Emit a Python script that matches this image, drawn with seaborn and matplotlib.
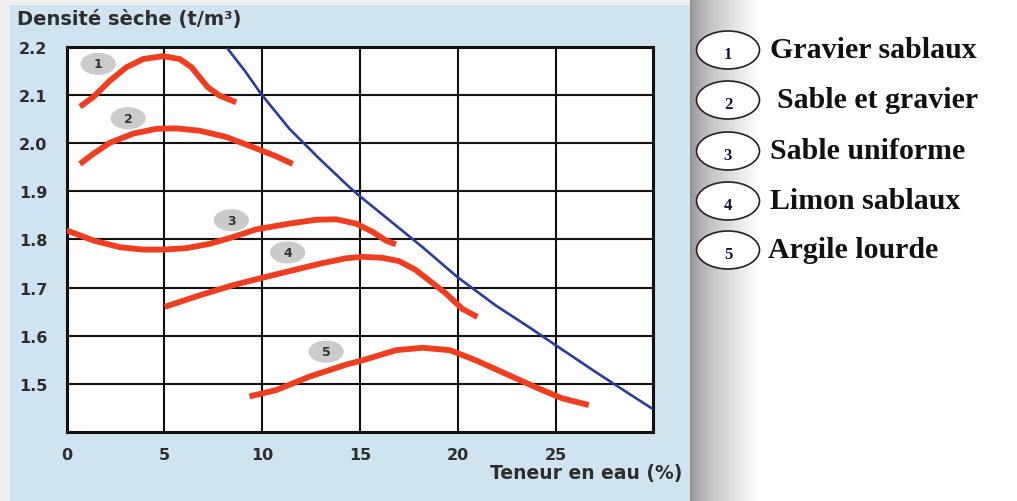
import numpy as np
import pandas as pd
import seaborn as sns
import matplotlib.pyplot as plt
from matplotlib.patches import Rectangle, Ellipse

# courbes Proctor (teneur en eau %, densité sèche t/m3)
c1_x = [0.68, 1.36, 2.21, 3.06, 3.91, 4.93, 5.78, 6.38, 6.8, 7.23, 7.82, 8.67]
c1_y = [2.076, 2.096, 2.13, 2.158, 2.175, 2.181, 2.175, 2.158, 2.137, 2.116, 2.099, 2.085]
c2_x = [0.68, 1.36, 2.21, 3.4, 4.59, 5.61, 6.8, 8.16, 9.52, 10.71, 11.56]
c2_y = [1.957, 1.978, 2.001, 2.02, 2.03, 2.031, 2.026, 2.013, 1.992, 1.973, 1.957]
c3_x = [0.0, 1.36, 2.72, 3.9, 4.93, 6.12, 7.31, 8.5, 9.69, 11.39, 12.75, 13.78, 14.8, 15.64, 16.32, 16.84]
c3_y = [1.819, 1.798, 1.784, 1.779, 1.779, 1.782, 1.791, 1.805, 1.821, 1.833, 1.841, 1.842, 1.833, 1.816, 1.798, 1.79]
c4_x = [5.01, 6.8, 8.5, 9.95, 11.56, 13.09, 14.29, 15.13, 16.15, 17.0, 17.8, 18.54, 19.39, 20.23, 21.0]
c4_y = [1.66, 1.684, 1.705, 1.72, 1.736, 1.751, 1.761, 1.764, 1.762, 1.755, 1.738, 1.715, 1.688, 1.656, 1.639]
c5_x = [9.35, 10.71, 12.41, 14.29, 15.13, 16.84, 18.2, 19.6, 20.92, 22.62, 24.15, 25.34, 26.7]
c5_y = [1.474, 1.487, 1.515, 1.54, 1.549, 1.57, 1.575, 1.57, 1.549, 1.518, 1.49, 1.47, 1.456]

# courbe de saturation
sat_x = [8.24, 9.1, 9.95, 11.39, 12.92, 14.45, 14.96, 16.84, 18.2, 19.98, 21.94, 23.64, 25.13, 27.04, 28.74, 29.93]
sat_y = [2.196, 2.151, 2.102, 2.03, 1.968, 1.909, 1.891, 1.829, 1.784, 1.722, 1.663, 1.618, 1.577, 1.525, 1.48, 1.449]

curve_ids = ["1", "2", "3", "4", "5"]
curve_names = ["Gravier sablaux", "Sable et gravier", "Sable uniforme", "Limon sablaux", "Argile lourde"]
badge_x = [1.61, 3.14, 8.42, 11.3, 13.27]
badge_y = [2.165, 2.052, 1.84, 1.773, 1.567]

x_ticks = [0, 5, 10, 15, 20, 25]
y_ticks = [1.5, 1.6, 1.7, 1.8, 1.9, 2.0, 2.1, 2.2]

RED = "#ef3d1f"
BLUE = "#2b3b9e"
PANEL = "#cfe3f1"
TXT = "#2d2d2d"

sns.set_style("white")
plt.rcParams["font.family"] = ["DejaVu Sans"]

fig = plt.figure(figsize=(10.17, 5.02), dpi=100)
fig.patch.set_facecolor("white")

# fond bleu + bandes grises
fig.add_artist(Rectangle((0, 0), 10 / 1017, 1, transform=fig.transFigure, fc="#eeeeee", ec="none", zorder=-3))
fig.add_artist(Rectangle((0, 1 - 6 / 502), 690 / 1017, 6 / 502, transform=fig.transFigure, fc="#eeeeee", ec="none", zorder=-3))
fig.add_artist(Rectangle((10 / 1017, 0), 680 / 1017, 1 - 6 / 502, transform=fig.transFigure, fc=PANEL, ec="none", zorder=-2))

# ombre à droite du panneau
sh = fig.add_axes([690 / 1017, 0, 70 / 1017, 1])
sh.imshow(np.linspace(0, 1, 200)[None, :] ** 0.6, cmap="gray", vmin=-1.2, vmax=1, aspect="auto")
sh.axis("off")

ax = fig.add_axes([66.7 / 1017, 1 - 433 / 502, 586.6 / 1017, 385 / 502])
ax.set_facecolor("white")

curves = [(c1_x, c1_y), (c2_x, c2_y), (c3_x, c3_y), (c4_x, c4_y), (c5_x, c5_y)]
for cx, cy in curves:
    sns.lineplot(x=cx, y=cy, ax=ax, color=RED, linewidth=4.2, sort=False, estimator=None,
                 solid_capstyle="butt", solid_joinstyle="round", zorder=4)
sns.lineplot(x=sat_x, y=sat_y, ax=ax, color=BLUE, linewidth=1.9, sort=False, estimator=None, zorder=3)

for cid, bx, by in zip(curve_ids, badge_x, badge_y):
    ax.add_patch(Ellipse((bx, by), 1.8, 0.046, fc="#cbcbcb", ec="none", zorder=5))
    ax.text(bx, by, cid, ha="center", va="center", fontsize=9, fontweight="bold", color="#333333", zorder=6)

ax.set_xlim(0, 30)
ax.set_ylim(1.4, 2.2)
ax.set_xticks(x_ticks)
ax.set_yticks(y_ticks)
ax.set_xticklabels([str(t) for t in x_ticks])
ax.set_yticklabels([f"{t:.1f}" for t in y_ticks])
ax.grid(True, color="#111111", linewidth=1.5)
ax.set_axisbelow(True)
for s in ax.spines.values():
    s.set_visible(True)
    s.set_color("#111111")
    s.set_linewidth(2.2)
ax.tick_params(length=0, labelsize=11.5, labelcolor=TXT)
ax.tick_params(axis="y", pad=14)
ax.tick_params(axis="x", pad=11)
for lab in ax.get_xticklabels() + ax.get_yticklabels():
    lab.set_fontweight("bold")
ax.set_xlabel("")
ax.set_ylabel("")

fig.text(17 / 1017, 1 - 20 / 502, "Densité sèche (t/m³)", ha="left", va="center",
         fontsize=14, fontweight="bold", color=TXT)
fig.text(682 / 1017, 1 - 473 / 502, "Teneur en eau (%)", ha="right", va="center",
         fontsize=13.5, fontweight="bold", color=TXT)

# légende à droite
leg_y = [51, 101, 152, 202, 251]
leg_tx = [770, 777, 770, 770, 768]
for cid, name, ly, tx in zip(curve_ids, curve_names, leg_y, leg_tx):
    fig.add_artist(Ellipse((728 / 1017, 1 - ly / 502), 63 / 1017, 38 / 502, transform=fig.transFigure,
                           fc="white", ec="#222222", lw=1.2, zorder=5))
    fig.text(728 / 1017, 1 - (ly + 4) / 502, cid, ha="center", va="center", fontsize=12,
             fontweight="bold", family="Liberation Serif", color="#111133", zorder=6)
    fig.text(tx / 1017, 1 - ly / 502, name, ha="left", va="center", fontsize=21.5,
             fontweight="bold", family="Liberation Serif", color="#111111", zorder=6)

fig.savefig("out.png", dpi=100)
